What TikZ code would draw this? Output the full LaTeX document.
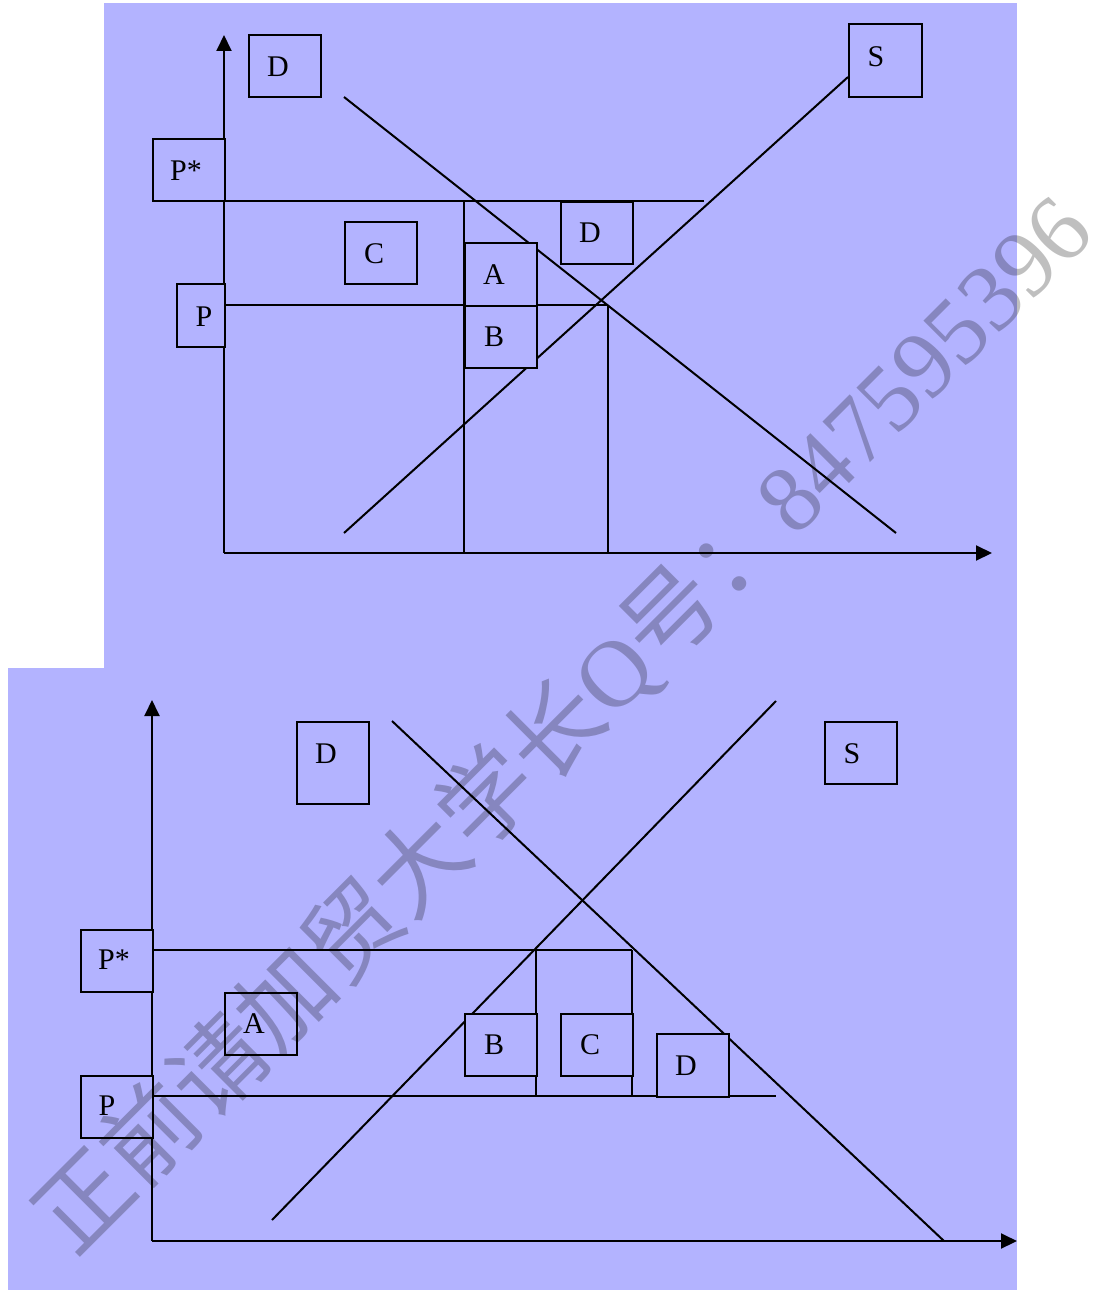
\documentclass[tikz,border=0pt]{standalone}
\usepackage{fontspec}
\setmainfont{Liberation Serif}
\newfontfamily\cjkfont{Noto Sans CJK SC}
\usetikzlibrary{arrows.meta}
\definecolor{bg}{RGB}{179,179,255}
\begin{document}
\begin{tikzpicture}[x=1pt,y=-1pt,
  ln/.style={line width=2pt},
  ax/.style={line width=2pt,-{Triangle[length=16pt,width=15pt]}},
  bx/.style={draw,line width=2pt,fill=bg,inner sep=0pt,anchor=north west,minimum width=72pt,minimum height=62pt},
  lbl/.style={inner sep=0pt,anchor=center,font=\fontsize{30}{32}\selectfont}]
\useasboundingbox (0,0) rectangle (1094,1290);
\fill[white] (0,0) rectangle (1094,1290);
\fill[bg] (104,3) rectangle (1017,668);
\fill[bg] (8,668) rectangle (1017,1290);

% ---------- top chart ----------
\coordinate (tO) at (224,553);
\coordinate (tYt) at (224,35);
\coordinate (tXt) at (992,553);
\coordinate (tPsL) at (224,201);
\coordinate (tPsR) at (704,201);
\coordinate (tPL) at (224,305);
\coordinate (tPR) at (608,305);
\coordinate (tV1t) at (464,201);
\coordinate (tV1b) at (464,553);
\coordinate (tV2b) at (608,553);
\coordinate (tDa) at (344,97);
\coordinate (tDb) at (896,533);
\coordinate (tSa) at (344,533);
\coordinate (tSb) at (848,77);
\draw[ax] (tO) -- (tYt);
\draw[ax] (tO) -- (tXt);
\draw[ln] (tPsL) -- (tPsR);
\draw[ln] (tPL) -- (tPR);
\draw[ln] (tV1t) -- (tV1b);
\draw[ln] (tPR) -- (tV2b);
\draw[ln] (tDa) -- (tDb);
\draw[ln] (tSa) -- (tSb);

\node[bx] (tDbox) at (248,34) {};
\node[bx] (tPsbox) at (152,138) {};
\node[bx] (tCbox) at (344,221) {};
\node[bx,minimum width=48pt,minimum height=63pt] (tPbox) at (176,283) {};
\node[bx,minimum height=63pt] (tAbox) at (464,242) {};
\node[bx] (tBbox) at (464,305) {};
\node[bx] (tD2box) at (560,201) {};
\node[bx,minimum width=73pt,minimum height=73pt] (tSbox) at (848,23) {};

\node[lbl] (tDt) at (278,67) {D};
\node[lbl] (tPst) at (186,171) {P*};
\node[lbl] (tCt) at (374,254) {C};
\node[lbl] (tPt) at (204,317) {P};
\node[lbl] (tAt) at (494,275) {A};
\node[lbl] (tBt) at (494,337) {B};
\node[lbl] (tD2t) at (590,233) {D};
\node[lbl] (tSt) at (876,57) {S};

% ---------- bottom chart ----------
\coordinate (bO) at (152,1241);
\coordinate (bYt) at (152,700);
\coordinate (bXt) at (1017,1241);
\coordinate (bPsL) at (152,950);
\coordinate (bPsR) at (632,950);
\coordinate (bPL) at (152,1096);
\coordinate (bPR) at (776,1096);
\coordinate (bV1t) at (536,950);
\coordinate (bV1b) at (536,1096);
\coordinate (bV2b) at (632,1096);
\coordinate (bDa) at (392,721);
\coordinate (bDb) at (944,1241);
\coordinate (bSa) at (272,1220);
\coordinate (bSb) at (776,701);
\draw[ax] (bO) -- (bYt);
\draw[ax] (bO) -- (bXt);
\draw[ln] (bPsL) -- (bPsR);
\draw[ln] (bPL) -- (bPR);
\draw[ln] (bV1t) -- (bV1b);
\draw[ln] (bPsR) -- (bV2b);
\draw[ln] (bDa) -- (bDb);
\draw[ln] (bSa) -- (bSb);

\node[bx,minimum height=82pt] (bDbox) at (296,721) {};
\node[bx] (bSbox) at (824,721) {};
\node[bx] (bPsbox) at (80,929) {};
\node[bx] (bAbox) at (224,992) {};
\node[bx] (bPbox) at (80,1075) {};
\node[bx] (bBbox) at (464,1013) {};
\node[bx] (bCbox) at (560,1013) {};
\node[bx,minimum height=63pt] (bD2box) at (656,1033) {};

\node[lbl] (bDt) at (326,754) {D};
\node[lbl] (bSt) at (852,754) {S};
\node[lbl] (bPst) at (114,960) {P*};
\node[lbl] (bAt) at (254,1024) {A};
\node[lbl] (bPt) at (107,1106) {P};
\node[lbl] (bBt) at (494,1045) {B};
\node[lbl] (bCt) at (590,1045) {C};
\node[lbl] (bD2t) at (686,1066) {D};

% ---------- watermark ----------
\node[rotate=45,inner sep=0pt,text=black,text opacity=0.25,font=\fontsize{95}{100}\selectfont] (wm) at (563,724)
  {{\cjkfont 正前请加贸大学长}Q{\cjkfont 号：}847595396};
\end{tikzpicture}
\end{document}
